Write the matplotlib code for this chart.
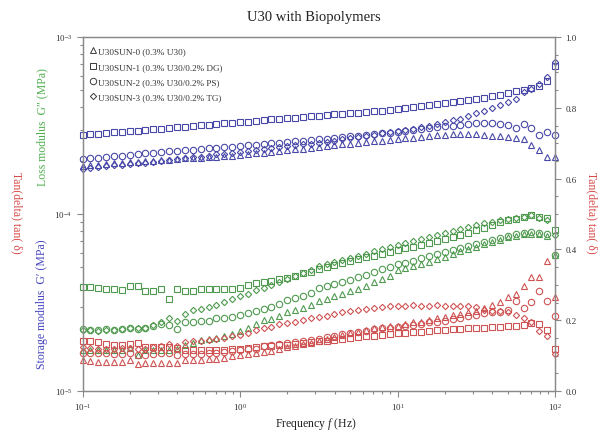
import numpy as np
import matplotlib
matplotlib.use("Agg")
import matplotlib.pyplot as plt
from matplotlib.lines import Line2D
from matplotlib.ticker import LogLocator, MultipleLocator, NullFormatter, FixedLocator

plt.rcParams['font.family'] = ['Liberation Serif', 'DejaVu Serif']
plt.rcParams['mathtext.fontset'] = 'custom'
plt.rcParams['mathtext.rm'] = 'Liberation Serif'
plt.rcParams['mathtext.it'] = 'Liberation Serif:italic'

# Oscillatory frequency sweep (Hz)
freq = [0.1, 0.112, 0.126, 0.141, 0.158, 0.178, 0.2, 0.224, 0.251, 0.282,
        0.316, 0.355, 0.398, 0.447, 0.501, 0.562, 0.631, 0.708, 0.794, 0.891,
        1.0, 1.12, 1.26, 1.41, 1.58, 1.78, 2.0, 2.24, 2.51, 2.82,
        3.16, 3.55, 3.98, 4.47, 5.01, 5.62, 6.31, 7.08, 7.94, 8.91,
        10.0, 11.2, 12.6, 14.1, 15.8, 17.8, 20.0, 22.4, 25.1, 28.2,
        31.6, 35.5, 39.8, 44.7, 50.1, 56.2, 63.1, 70.8, 79.4, 89.1, 100.0]

samples = ["U30SUN-0 (0.3% U30)",
           "U30SUN-1 (0.3% U30/0.2% DG)",
           "U30SUN-2 (0.3% U30/0.2% PS)",
           "U30SUN-3 (0.3% U30/0.2% TG)"]

# Storage modulus G' (x 1e-4 MPa)
storage_sun0 = [1.87, 1.88, 1.90, 1.91, 1.93, 1.94, 1.96, 1.97, 1.99, 2.00,
                2.02, 2.03, 2.04, 2.06, 2.07, 2.08, 2.10, 2.11, 2.12, 2.14,
                2.15, 2.17, 2.20, 2.22, 2.24, 2.26, 2.29, 2.32, 2.34, 2.37,
                2.39, 2.42, 2.44, 2.47, 2.49, 2.52, 2.54, 2.57, 2.60, 2.62,
                2.65, 2.68, 2.70, 2.73, 2.75, 2.78, 2.80, 2.82, 2.83, 2.83,
                2.82, 2.80, 2.77, 2.75, 2.72, 2.69, 2.64, 2.45, 2.31, 2.11, 2.11]
storage_sun1 = [2.80, 2.82, 2.84, 2.87, 2.89, 2.91, 2.94, 2.96, 2.99, 3.01,
                3.04, 3.06, 3.09, 3.11, 3.14, 3.17, 3.20, 3.22, 3.25, 3.28,
                3.31, 3.33, 3.36, 3.39, 3.42, 3.45, 3.48, 3.50, 3.53, 3.56,
                3.59, 3.62, 3.65, 3.68, 3.71, 3.74, 3.77, 3.80, 3.83, 3.86,
                3.90, 3.95, 4.00, 4.05, 4.11, 4.17, 4.23, 4.28, 4.34, 4.40,
                4.47, 4.55, 4.64, 4.73, 4.83, 4.95, 5.05, 5.15, 5.31, 5.65, 6.85]
storage_sun2 = [2.05, 2.07, 2.08, 2.10, 2.12, 2.14, 2.16, 2.18, 2.20, 2.22,
                2.24, 2.26, 2.27, 2.29, 2.31, 2.33, 2.35, 2.37, 2.38, 2.40,
                2.42, 2.44, 2.46, 2.48, 2.51, 2.53, 2.55, 2.58, 2.60, 2.62,
                2.65, 2.67, 2.70, 2.72, 2.75, 2.77, 2.80, 2.83, 2.85, 2.88,
                2.91, 2.95, 2.98, 3.02, 3.06, 3.10, 3.13, 3.16, 3.20, 3.23,
                3.25, 3.26, 3.25, 3.22, 3.18, 3.08, 3.23, 3.08, 2.78, 2.92, 2.81]
storage_sun3 = [1.80, 1.82, 1.84, 1.86, 1.88, 1.89, 1.91, 1.93, 1.95, 1.97,
                1.99, 2.01, 2.04, 2.06, 2.09, 2.11, 2.14, 2.17, 2.19, 2.22,
                2.24, 2.27, 2.30, 2.32, 2.35, 2.38, 2.41, 2.44, 2.47, 2.49,
                2.52, 2.56, 2.60, 2.64, 2.68, 2.72, 2.76, 2.80, 2.85, 2.89,
                2.94, 2.99, 3.04, 3.10, 3.16, 3.23, 3.31, 3.38, 3.46, 3.58,
                3.70, 3.82, 3.95, 4.13, 4.29, 4.49, 4.86, 5.08, 5.43, 5.98, 7.27]

# Loss modulus G'' (x 1e-5 MPa)
loss_sun0 = [1.70, 1.70, 1.70, 1.70, 1.70, 1.70, 1.76, 1.60, 1.70, 1.70,
             1.70, 1.70, 1.73, 1.82, 1.87, 1.93, 1.96, 2.00, 2.05, 2.11,
             2.18, 2.27, 2.39, 2.52, 2.55, 2.67, 2.81, 2.88, 2.96, 3.08,
             3.22, 3.31, 3.44, 3.53, 3.65, 3.77, 3.94, 4.13, 4.29, 4.46,
             4.83, 4.96, 5.09, 5.22, 5.39, 5.57, 5.75, 5.94, 6.18, 6.34,
             6.55, 6.77, 6.95, 7.17, 7.41, 7.56, 7.66, 7.71, 7.71, 7.51, 5.86]
loss_sun1 = [3.88, 3.85, 3.80, 3.78, 3.75, 3.73, 3.92, 3.90, 3.66, 3.66,
             3.75, 3.31, 3.75, 3.69, 3.69, 3.75, 3.75, 3.75, 3.75, 3.77,
             3.80, 3.99, 4.06, 4.11, 4.17, 4.28, 4.33, 4.48, 4.64, 4.68,
             4.89, 5.04, 5.16, 5.29, 5.41, 5.55, 5.68, 5.81, 5.96, 6.10,
             6.25, 6.40, 6.55, 6.72, 6.88, 7.04, 7.21, 7.39, 7.61, 7.86,
             8.12, 8.34, 8.67, 9.01, 9.19, 9.37, 9.62, 9.87, 9.62, 9.49, 8.17]
loss_sun2 = [2.23, 2.20, 2.20, 2.23, 2.20, 2.23, 2.27, 2.25, 2.28, 2.33,
             2.39, 2.36, 2.24, 2.45, 2.45, 2.47, 2.50, 2.57, 2.57, 2.62,
             2.69, 2.76, 2.83, 2.90, 3.00, 3.12, 3.25, 3.35, 3.44, 3.58,
             3.82, 3.92, 4.02, 4.13, 4.26, 4.41, 4.55, 4.70, 4.86, 5.02,
             5.19, 5.32, 5.46, 5.64, 5.79, 5.94, 6.10, 6.26, 6.42, 6.59,
             6.77, 6.95, 7.17, 7.36, 7.56, 7.71, 7.86, 7.92, 7.81, 7.66, 5.86]
loss_sun3 = [2.21, 2.21, 2.18, 2.21, 2.21, 2.24, 2.27, 2.27, 2.27, 2.37,
             2.45, 2.60, 2.50, 2.74, 2.85, 2.90, 2.98, 3.08, 3.17, 3.29,
             3.42, 3.55, 3.70, 3.82, 3.98, 4.15, 4.29, 4.48, 4.62, 4.83,
             5.09, 5.22, 5.36, 5.50, 5.64, 5.79, 5.98, 6.14, 6.34, 6.51,
             6.68, 6.86, 7.04, 7.22, 7.41, 7.61, 7.81, 8.01, 8.23, 8.45,
             8.67, 8.84, 9.01, 9.19, 9.37, 9.49, 9.62, 9.87, 9.49, 9.25, 7.61]

# Loss factor tan(delta)
tan_sun0 = [0.088, 0.086, 0.083, 0.083, 0.083, 0.083, 0.088, 0.076, 0.078, 0.078,
            0.078, 0.078, 0.079, 0.088, 0.088, 0.088, 0.090, 0.090, 0.093, 0.100,
            0.102, 0.105, 0.107, 0.111, 0.114, 0.119, 0.123, 0.128, 0.133, 0.137,
            0.141, 0.147, 0.152, 0.158, 0.164, 0.168, 0.173, 0.177, 0.180, 0.183,
            0.185, 0.189, 0.194, 0.196, 0.201, 0.205, 0.208, 0.215, 0.218, 0.222,
            0.227, 0.234, 0.243, 0.252, 0.265, 0.274, 0.298, 0.321, 0.321, 0.368, 0.265]
tan_sun1 = [0.141, 0.141, 0.138, 0.134, 0.131, 0.131, 0.134, 0.136, 0.123, 0.123,
            0.124, 0.123, 0.121, 0.117, 0.117, 0.117, 0.117, 0.117, 0.117, 0.119,
            0.120, 0.121, 0.124, 0.127, 0.128, 0.130, 0.131, 0.134, 0.137, 0.138,
            0.140, 0.141, 0.144, 0.147, 0.150, 0.152, 0.154, 0.155, 0.158, 0.161,
            0.164, 0.165, 0.167, 0.168, 0.169, 0.171, 0.172, 0.174, 0.175, 0.177,
            0.178, 0.179, 0.181, 0.182, 0.184, 0.185, 0.186, 0.191, 0.188, 0.171, 0.119]
tan_sun2 = [0.107, 0.107, 0.107, 0.107, 0.105, 0.105, 0.107, 0.102, 0.102, 0.105,
            0.107, 0.107, 0.102, 0.105, 0.105, 0.105, 0.107, 0.107, 0.111, 0.114,
            0.116, 0.119, 0.120, 0.126, 0.129, 0.133, 0.136, 0.138, 0.140, 0.144,
            0.147, 0.152, 0.155, 0.160, 0.164, 0.167, 0.170, 0.174, 0.177, 0.179,
            0.182, 0.184, 0.186, 0.189, 0.194, 0.196, 0.199, 0.202, 0.205, 0.211,
            0.215, 0.219, 0.222, 0.224, 0.230, 0.254, 0.235, 0.251, 0.283, 0.255, 0.211]
tan_sun3 = [0.123, 0.122, 0.119, 0.120, 0.120, 0.122, 0.122, 0.120, 0.119, 0.124,
            0.127, 0.133, 0.127, 0.138, 0.140, 0.142, 0.144, 0.147, 0.150, 0.154,
            0.158, 0.165, 0.171, 0.177, 0.182, 0.188, 0.192, 0.196, 0.201, 0.205,
            0.208, 0.213, 0.218, 0.222, 0.225, 0.229, 0.232, 0.235, 0.236, 0.239,
            0.241, 0.241, 0.242, 0.241, 0.241, 0.242, 0.241, 0.241, 0.241, 0.239,
            0.236, 0.230, 0.226, 0.225, 0.224, 0.216, 0.206, 0.194, 0.170, 0.156, 0.105]

storage = [np.array(s) * 1e-4 for s in (storage_sun0, storage_sun1, storage_sun2, storage_sun3)]
loss = [np.array(s) * 1e-5 for s in (loss_sun0, loss_sun1, loss_sun2, loss_sun3)]
tand = [np.array(s) for s in (tan_sun0, tan_sun1, tan_sun2, tan_sun3)]

markers = ['^', 's', 'o', 'D']
msizes = [4.3, 4.0, 4.6, 3.2]
c_storage = '#4848a8'
c_loss = '#4f9a4f'
c_tan = '#cf5353'

W, H = 605, 439
fig = plt.figure(figsize=(W / 100, H / 100), dpi=100)
ax = fig.add_axes([82.5 / W, 1 - 392 / H, (555 - 82.5) / W, (392 - 38) / H])
ax.set_xscale('log')
ax.set_yscale('log')
ax.set_xlim(0.1, 100)
ax.set_ylim(1e-5, 1e-3)

ax2 = ax.twinx()
ax2.set_ylim(0, 1.0)

style = dict(linestyle='none', mfc='none', clip_on=False)
for i in range(4):
    ax.plot(freq, storage[i], marker=markers[i], ms=msizes[i], mec=c_storage, mew=0.8, **style)
    ax.plot(freq, loss[i], marker=markers[i], ms=msizes[i], mec=c_loss, mew=0.8, **style)
    ax2.plot(freq, tand[i], marker=markers[i], ms=msizes[i], mec=c_tan, mew=0.8, **style)

spine_c = '#8a8a8a'
for a in (ax, ax2):
    for s in a.spines.values():
        s.set_color(spine_c)
        s.set_linewidth(0.9)

ax.xaxis.set_major_locator(LogLocator(base=10, numticks=10))
ax.xaxis.set_minor_locator(LogLocator(base=10, subs=np.arange(2, 10), numticks=20))
ax.xaxis.set_minor_formatter(NullFormatter())
ax.yaxis.set_major_locator(LogLocator(base=10, numticks=10))
ax.yaxis.set_minor_locator(LogLocator(base=10, subs=np.arange(2, 10), numticks=20))
ax.yaxis.set_minor_formatter(NullFormatter())
ax.tick_params(which='both', direction='out', color=spine_c, labelcolor='#333333',
               labelsize=6.5, width=0.8)
ax.tick_params(which='major', length=4)
ax.tick_params(which='minor', length=2.2)
ax.tick_params(axis='x', which='both', top=False)

ax2.yaxis.set_major_locator(FixedLocator([0.0, 0.2, 0.4, 0.6, 0.8, 1.0]))
ax2.yaxis.set_minor_locator(MultipleLocator(0.05))
ax2.set_yticklabels(['0.0', '0.2', '0.4', '0.6', '0.8', '1.0'])
ax2.tick_params(which='both', direction='out', color=spine_c, labelcolor='#333333',
                labelsize=6.5, width=0.8)
ax2.tick_params(which='major', length=4)
ax2.tick_params(which='minor', length=2.2)

handles = [Line2D([], [], linestyle='none', marker=m, ms=s, mfc='none', mec='#3a3a3a', mew=0.7)
           for m, s in zip(markers, msizes)]
leg = ax2.legend(handles, samples, loc='upper left', bbox_to_anchor=(0.0, 0.992),
                 frameon=False, fontsize=6.6, handlelength=0.7, handletextpad=0.2,
                 labelspacing=0.75, borderaxespad=0.4)
for t in leg.get_texts():
    t.set_color('#333333')

fig.text(314 / W, 1 - 17 / H, 'U30 with Biopolymers', ha='center', va='center',
         fontsize=10.5, color='#222222')
fig.text(316 / W, 1 - 424 / H, r'Frequency $\it{f}$ (Hz)', ha='center', va='center',
         fontsize=8.5, color='#222222')
fig.text(42 / W, 1 - 127 / H, 'Loss modulus  G\u2033 (MPa)', rotation=90, ha='center',
         va='center', fontsize=8.5, color='#4fae4f')
fig.text(42 / W, 1 - 304 / H, 'Storage modulus  G\u2032 (MPa)', rotation=90, ha='center',
         va='center', fontsize=8.5, color='#4545c0')
fig.text(17 / W, 1 - 213 / H, 'Tan(delta) tan( \u03b4)', rotation=270, ha='center',
         va='center', fontsize=8.5, color='#d94a4a')
fig.text(592 / W, 1 - 213 / H, 'Tan(delta) tan( \u03b4)', rotation=270, ha='center',
         va='center', fontsize=8.5, color='#d94a4a')

fig.savefig('out.png', dpi=100)
